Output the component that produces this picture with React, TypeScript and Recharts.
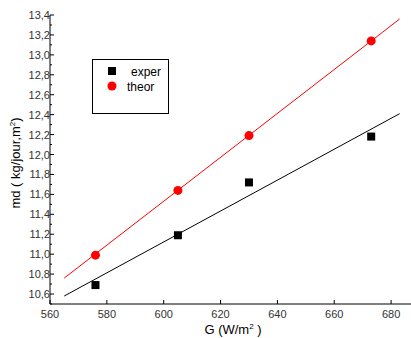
import React from "react";
import {
  ComposedChart,
  XAxis,
  YAxis,
  Scatter,
  Line,
  Label,
  Customized,
} from "recharts";

// measured points
const gValues = [576, 605, 630, 673];
const experValues = [10.69, 11.19, 11.72, 12.18];
const theorValues = [10.99, 11.64, 12.19, 13.14];

// linear fits (end points)
const fitX = [565, 683];
const experFit = [10.58, 12.41];
const theorFit = [10.76, 13.36];

const xTicks = [560, 570, 580, 590, 600, 610, 620, 630, 640, 650, 660, 670, 680];
const yTicks = [
  10.5, 10.6, 10.7, 10.8, 10.9, 11.0, 11.1, 11.2, 11.3, 11.4, 11.5, 11.6, 11.7, 11.8, 11.9,
  12.0, 12.1, 12.2, 12.3, 12.4, 12.5, 12.6, 12.7, 12.8, 12.9, 13.0, 13.1, 13.2, 13.3, 13.4,
];

const experData = gValues.map((g, i) => ({ g, v: experValues[i] }));
const theorData = gValues.map((g, i) => ({ g, v: theorValues[i] }));
const experLine = fitX.map((g, i) => ({ g, v: experFit[i] }));
const theorLine = fitX.map((g, i) => ({ g, v: theorFit[i] }));

const FONT = "'Liberation Sans', Arial, sans-serif";

const YTick = (props: any) => {
  const { x, y, payload } = props;
  const val = payload.value as number;
  const major = Math.round(val * 10) % 2 === 0;
  return (
    <g>
      <line x1={x + 8} x2={x + (major ? 12 : 10)} y1={y} y2={y} stroke="#000" />
      {major && Math.abs(val - 10.5) > 0.01 && val < 13.45 && (
        <text x={x + 8} y={y + 4} textAnchor="end" fontSize={11} fontFamily={FONT} fill="#333">
          {val.toFixed(1).replace(".", ",")}
        </text>
      )}
    </g>
  );
};

const XTick = (props: any) => {
  const { x, y, payload } = props;
  const val = payload.value as number;
  const major = val % 20 === 0;
  return (
    <g>
      <line x1={x} x2={x} y1={y - 8} y2={y - (major ? 12 : 10)} stroke="#000" />
      {major && (
        <text x={x} y={y + 6} textAnchor="middle" fontSize={11} fontFamily={FONT} fill="#333">
          {val}
        </text>
      )}
    </g>
  );
};

const LegendBox = () => (
  <g fontFamily={FONT} fontSize={12}>
    <rect x={92.5} y={59.5} width={76} height={54} fill="#fff" stroke="#000" />
    <rect x={108} y={67} width={8} height={8} fill="#000" />
    <text x={131} y={75.5} fill="#000">exper</text>
    <circle cx={112} cy={86} r={4.5} fill="#ff0000" />
    <text x={127} y={90.5} fill="#000">theor</text>
  </g>
);

const square = (props: any) => (
  <rect x={props.cx - 4} y={props.cy - 4} width={8} height={8} fill="#000" />
);
const dot = (props: any) => <circle cx={props.cx} cy={props.cy} r={4.5} fill="#ff0000" />;

export default function App() {
  return (
    <div style={{ position: "absolute", left: 0, top: 0, width: 411, height: 338, background: "#fff" }}>
      <ComposedChart
        width={411}
        height={338}
        margin={{ top: 15, right: 0, bottom: 0, left: 0 }}
      >
        <XAxis
          type="number"
          dataKey="g"
          domain={[560, 687]}
          ticks={xTicks}
          tick={<XTick />}
          tickLine={false}
          axisLine={{ stroke: "#000" }}
          height={34}
          allowDataOverflow
        >
          <Label
            content={() => (
              <text x={233} y={334} textAnchor="middle" fontSize={13} fontFamily={FONT} fill="#000">
                G (W/m
                <tspan dy={-5} fontSize={8}>2</tspan>
                <tspan dy={5}> )</tspan>
              </text>
            )}
          />
        </XAxis>
        <YAxis
          type="number"
          dataKey="v"
          domain={[10.5, 13.4]}
          ticks={yTicks}
          tick={<YTick />}
          tickLine={false}
          axisLine={{ stroke: "#000" }}
          width={50}
          interval={0}
          allowDataOverflow
        >
          <Label
            content={() => (
              <text
                x={20}
                y={163}
                textAnchor="middle"
                fontSize={13}
                fontFamily={FONT}
                fill="#000"
                transform="rotate(-90 20 163)"
              >
                md ( kg/jour,m
                <tspan dy={-5} fontSize={8}>2</tspan>
                <tspan dy={5}>)</tspan>
              </text>
            )}
          />
        </YAxis>
        <Line
          data={theorLine}
          dataKey="v"
          stroke="#ff0000"
          strokeWidth={1}
          dot={false}
          isAnimationActive={false}
        />
        <Line
          data={experLine}
          dataKey="v"
          stroke="#000"
          strokeWidth={1}
          dot={false}
          isAnimationActive={false}
        />
        <Scatter data={experData} dataKey="v" shape={square} isAnimationActive={false} />
        <Scatter data={theorData} dataKey="v" shape={dot} isAnimationActive={false} />
        <Customized component={LegendBox} />
      </ComposedChart>
    </div>
  );
}
